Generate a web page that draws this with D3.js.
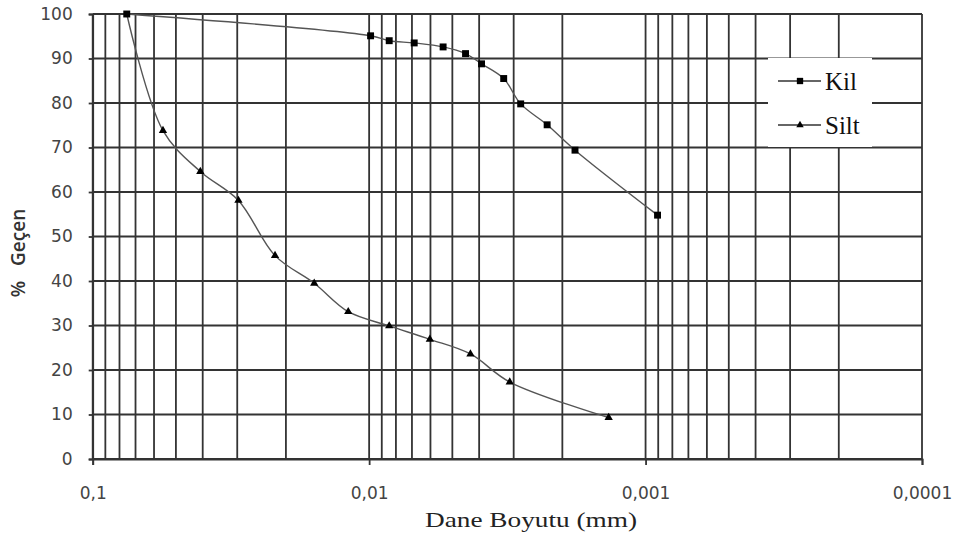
<!DOCTYPE html>
<html>
<head>
<meta charset="utf-8">
<script src="https://cdn.jsdelivr.net/npm/d3@7"></script>
<style>
  body { margin: 0; background: #fff; }
  svg { display: block; }
</style>
</head>
<body>
<svg id="chart"></svg>
<script>
// grain size (mm) vs % passing
var kilSize = [0.0753, 0.00988, 0.00846, 0.00687, 0.0054, 0.00448, 0.00392, 0.00326, 0.00283, 0.00227, 0.0018, 0.000905];
var kilPass = [100, 95.1, 94.0, 93.5, 92.6, 91.1, 88.8, 85.5, 79.8, 75.1, 69.4, 54.8];

var siltSize = [0.0753, 0.0557, 0.0408, 0.0297, 0.0219, 0.0158, 0.0119, 0.00846, 0.00603, 0.0043, 0.0031, 0.00136];
var siltPass = [100, 73.8, 64.6, 58.1, 45.7, 39.5, 33.1, 29.9, 26.9, 23.6, 17.3, 9.3];

var seriesNames = ["Kil", "Silt"];
var xTicks = [0.1, 0.01, 0.001, 0.0001];
var yTicks = [0, 10, 20, 30, 40, 50, 60, 70, 80, 90, 100];

var width = 955, height = 535;
var plotLeft = 92.7, plotRight = 922, plotTop = 14, plotBottom = 459;

var svg = d3.select('#chart')
  .attr('width', width)
  .attr('height', height);

var x = d3.scaleLog().domain([0.1, 0.0001]).range([plotLeft, plotRight]);
var y = d3.scaleLinear().domain([0, 100]).range([plotBottom, plotTop]);

var fmt = function(d) { return String(d).replace(".", ","); };

var gridColor = '#333';

// vertical grid: every 1..9 x 10^k
var vLines = [];
for (var k = -4; k <= -1; k++) {
  for (var m = 1; m <= 9; m++) {
    var v = +(m * Math.pow(10, k)).toPrecision(3);
    if (v >= 0.0001 && v <= 0.1) vLines.push(v);
  }
}

var grid = svg.append('g');
grid.selectAll('line.v')
  .data(vLines)
  .enter().append('line')
  .attr('class', 'v')
  .attr('x1', function(d) { return x(d); })
  .attr('x2', function(d) { return x(d); })
  .attr('y1', plotTop)
  .attr('y2', plotBottom)
  .attr('stroke', gridColor)
  .attr('stroke-width', 1.8);

grid.selectAll('line.h')
  .data(yTicks)
  .enter().append('line')
  .attr('class', 'h')
  .attr('x1', plotLeft)
  .attr('x2', plotRight)
  .attr('y1', function(d) { return y(d); })
  .attr('y2', function(d) { return y(d); })
  .attr('stroke', gridColor)
  .attr('stroke-width', 1.8);

// axes
var xAxis = d3.axisBottom(x)
  .tickValues(xTicks)
  .tickFormat(fmt)
  .tickSize(6)
  .tickPadding(22);

var gx = svg.append('g')
  .attr('transform', 'translate(0,' + plotBottom + ')')
  .call(xAxis);

var yAxis = d3.axisLeft(y)
  .tickValues(yTicks)
  .tickSize(4)
  .tickPadding(16);

var gy = svg.append('g')
  .attr('transform', 'translate(' + plotLeft + ',0)')
  .call(yAxis);

[gx, gy].forEach(function(g) {
  g.select('.domain').attr('stroke', gridColor).attr('stroke-width', 1.8);
  g.selectAll('.tick line').attr('stroke', gridColor).attr('stroke-width', 1.8);
  g.selectAll('.tick text')
    .attr('fill', '#444')
    .style('font-family', '"DejaVu Sans", Verdana, sans-serif')
    .style('font-size', '17px');
});

// axis titles
svg.append('text')
  .attr('x', 531)
  .attr('y', 527)
  .attr('text-anchor', 'middle')
  .attr('fill', '#222')
  .attr('textLength', 212)
  .attr('lengthAdjust', 'spacingAndGlyphs')
  .style('font-family', '"Liberation Serif", "Times New Roman", serif')
  .style('font-size', '22px')
  .text('Dane Boyutu (mm)');

svg.append('text')
  .attr('transform', 'translate(25,253) rotate(-90)')
  .attr('text-anchor', 'middle')
  .attr('fill', '#333')
  .style('font-family', '"Open Sans", "DejaVu Sans", sans-serif')
  .style('font-size', '19px')
  .style('font-weight', '600')
  .style('white-space', 'pre')
  .text('%   Geçen');

// series
var kil = kilSize.map(function(d, i) { return {s: d, p: kilPass[i]}; });
var silt = siltSize.map(function(d, i) { return {s: d, p: siltPass[i]}; });

var line = d3.line()
  .x(function(d) { return x(d.s); })
  .y(function(d) { return y(d.p); })
  .curve(d3.curveCatmullRom.alpha(0.5));

svg.append('path')
  .datum(kil)
  .attr('d', line)
  .attr('fill', 'none')
  .attr('stroke', '#555')
  .attr('stroke-width', 1.4);

svg.append('path')
  .datum(silt)
  .attr('d', line)
  .attr('fill', 'none')
  .attr('stroke', '#555')
  .attr('stroke-width', 1.4);

var square = d3.symbol().type(d3.symbolSquare).size(48);
var triangle = d3.symbol().type(d3.symbolTriangle).size(30);

svg.selectAll('path.kil')
  .data(kil)
  .enter().append('path')
  .attr('class', 'kil')
  .attr('d', square)
  .attr('transform', function(d) { return 'translate(' + x(d.s) + ',' + y(d.p) + ')'; })
  .attr('fill', '#000');

svg.selectAll('path.silt')
  .data(silt.slice(1))
  .enter().append('path')
  .attr('class', 'silt')
  .attr('d', triangle)
  .attr('transform', function(d) { return 'translate(' + x(d.s) + ',' + y(d.p) + ')'; })
  .attr('fill', '#000');

// legend
var legend = svg.append('g');
legend.append('rect')
  .attr('x', 768).attr('y', 58)
  .attr('width', 104).attr('height', 89)
  .attr('fill', '#fff');

var legendY = [81, 125];
seriesNames.forEach(function(name, i) {
  legend.append('line')
    .attr('x1', 778).attr('x2', 821)
    .attr('y1', legendY[i]).attr('y2', legendY[i])
    .attr('stroke', '#333')
    .attr('stroke-width', 1.4);
  legend.append('path')
    .attr('d', i === 0 ? d3.symbol().type(d3.symbolSquare).size(40) : d3.symbol().type(d3.symbolTriangle).size(24))
    .attr('transform', 'translate(800,' + legendY[i] + ')')
    .attr('fill', '#000');
  legend.append('text')
    .attr('x', 825)
    .attr('y', legendY[i] + 9)
    .attr('fill', '#111')
    .style('font-family', '"Liberation Serif", "Times New Roman", serif')
    .style('font-size', '25px')
    .text(name);
});
</script>
</body>
</html>
